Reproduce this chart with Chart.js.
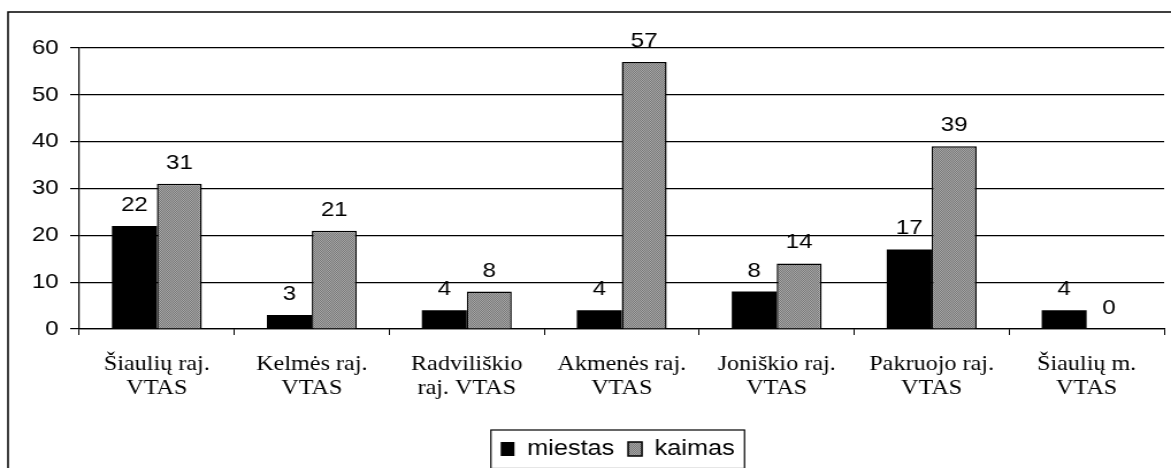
<!DOCTYPE html>
<html>
<head>
<meta charset="utf-8">
<script src="https://cdn.jsdelivr.net/npm/chart.js@4/dist/chart.umd.min.js"></script>
<style>
  html, body { margin: 0; padding: 0; background: #fff; overflow: hidden; }
  /* the original picture is stretched sideways, so draw narrower and stretch */
  #wrap { width: 1018px; height: 468px; transform: scaleX(1.1503); transform-origin: 0 0; }
</style>
</head>
<body>
<div id="wrap"><canvas id="chart" width="1018" height="468"></canvas></div>
<script>
// Data
const categories = [
    ['Šiaulių raj.', 'VTAS'],
    ['Kelmės raj.', 'VTAS'],
    ['Radviliškio', 'raj. VTAS'],
    ['Akmenės raj.', 'VTAS'],
    ['Joniškio raj.', 'VTAS'],
    ['Pakruojo raj.', 'VTAS'],
    ['Šiaulių m.', 'VTAS']
];
const miestas = [22, 3, 4, 4, 8, 17, 4];
const kaimas = [31, 21, 8, 57, 14, 39, 0];
const seriesNames = ['miestas', 'kaimas'];
const yTicks = [0, 10, 20, 30, 40, 50, 60];

document.addEventListener('DOMContentLoaded', function() {
    const ctx = document.getElementById('chart').getContext('2d');

    // Grey dotted fill like the old office pattern
    const pc = document.createElement('canvas');
    pc.width = 2; pc.height = 2;
    const p = pc.getContext('2d');
    p.fillStyle = '#a8a8a8'; p.fillRect(0, 0, 2, 2);
    p.fillStyle = '#777777'; p.fillRect(0, 0, 1, 1); p.fillRect(1, 1, 1, 1);
    const greyPattern = ctx.createPattern(pc, 'repeat');

    const ARIAL = 'Arial, "Liberation Sans", sans-serif';
    const TIMES = '"Times New Roman", "Liberation Serif", serif';

    // Value labels above bars
    const valueLabels = {
        id: 'valueLabels',
        afterDatasetsDraw(chart) {
            const c = chart.ctx;
            c.save();
            c.font = '21px ' + ARIAL;
            c.fillStyle = '#000';
            c.textAlign = 'center';
            c.textBaseline = 'alphabetic';
            chart.data.datasets.forEach((ds, i) => {
                chart.getDatasetMeta(i).data.forEach((bar, j) => {
                    c.fillText(String(ds.data[j]), bar.x, bar.y - 15);
                });
            });
            c.restore();
        }
    };

    // Outer frame and box around the legend
    const frame = {
        id: 'frame',
        afterLayout(chart) {
            const lg = chart.legend;
            const dx = 537 - (lg.left + lg.right) / 2;
            const dy = 426 - lg.top;
            lg.left += dx; lg.right += dx;
            lg.top += dy; lg.bottom += dy;
        },
        afterDraw(chart) {
            const c = chart.ctx;
            c.save();
            c.strokeStyle = '#000';
            c.lineWidth = 1.5;
            c.beginPath();
            c.moveTo(7, 468);
            c.lineTo(7, 12);
            c.lineTo(1018, 12);
            c.stroke();
            const hb = chart.legend.legendHitBoxes;
            if (hb && hb.length) {
                const first = hb[0], last = hb[hb.length - 1];
                const x0 = first.left - 8.5;
                const x1 = last.left + last.width + 8.5;
                const yc = first.top + first.height / 2;
                c.lineWidth = 1.2;
                c.strokeRect(x0, yc - 19, x1 - x0, 38.5);
            }
            c.restore();
        }
    };

    new Chart(ctx, {
        type: 'bar',
        data: {
            labels: categories,
            datasets: [{
                label: seriesNames[0],
                data: miestas,
                backgroundColor: '#000',
                borderColor: '#000',
                borderWidth: 0
            }, {
                label: seriesNames[1],
                data: kaimas,
                backgroundColor: greyPattern,
                borderColor: '#000',
                borderWidth: 1.5
            }]
        },
        options: {
            responsive: false,
            animation: false,
            devicePixelRatio: 1,
            layout: { padding: { top: 48, left: 0, right: 6, bottom: 0 } },
            datasets: { bar: { categoryPercentage: 0.58, barPercentage: 1.0 } },
            plugins: {
                tooltip: { enabled: false },
                legend: {
                    position: 'bottom',
                    labels: {
                        color: '#000',
                        font: { family: ARIAL, size: 22 },
                        boxWidth: 12,
                        boxHeight: 14,
                        padding: 12
                    }
                }
            },
            scales: {
                x: {
                    grid: { drawOnChartArea: false, drawTicks: true, tickLength: 6, color: '#000', offset: true },
                    border: { color: '#000', width: 1.2 },
                    ticks: {
                        color: '#000',
                        font: { family: TIMES, size: 21, lineHeight: 1.16 },
                        padding: 17,
                        maxRotation: 0,
                        autoSkip: false
                    },
                    afterFit(scale) {
                        const lg = scale.chart.legend;
                        scale.height = 139 - (lg ? lg.height : 0);
                    }
                },
                y: {
                    min: 0,
                    max: 60,
                    afterBuildTicks(scale) {
                        scale.ticks = yTicks.map(v => ({ value: v }));
                    },
                    grid: { color: '#000', lineWidth: 1.2, tickLength: 8 },
                    border: { color: '#000', width: 1.2 },
                    ticks: {
                        color: '#000',
                        font: { family: ARIAL, size: 21 },
                        padding: 10
                    },
                    afterFit(scale) {
                        scale.width = 69;
                    }
                }
            }
        },
        plugins: [valueLabels, frame]
    });
});
</script>
</body>
</html>
